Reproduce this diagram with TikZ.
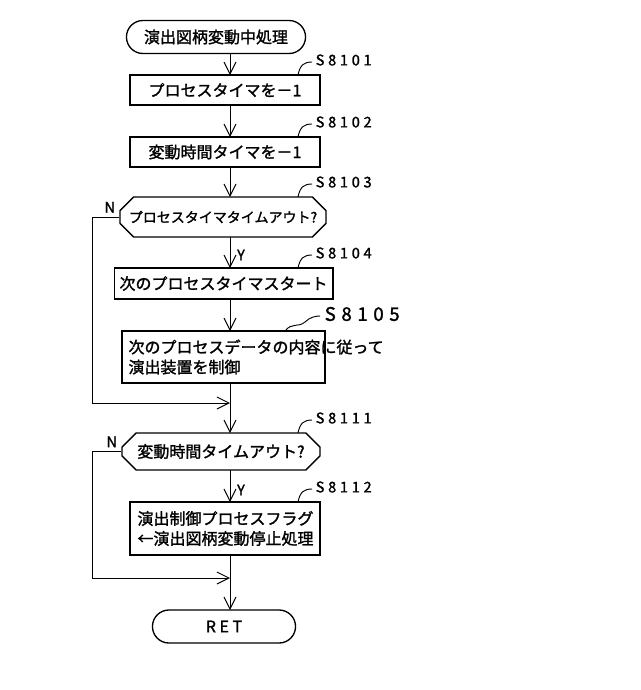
\documentclass[tikz,border=0pt]{standalone}
\usepackage{fontspec}
\setmainfont{Noto Sans CJK JP}[FakeBold=1.5]
\usetikzlibrary{arrows.meta,shapes.misc}
\begin{document}
\begin{tikzpicture}[x=0.75pt,y=-0.75pt,
  box/.style={draw,line width=1pt,minimum height=#1*0.75pt,inner sep=4pt},
  lbl/.style={font=\fontsize{11}{12}\selectfont},
  arr/.style={-{Straight Barb[length=9pt,width=9pt]},line width=0.7pt},
  ln/.style={line width=0.7pt},
  txt/.style={font=\fontsize{12}{15}\selectfont},
  hex/.style={draw,line width=1pt,chamfered rectangle,chamfered rectangle xsep=7pt,inner xsep=0pt,inner ysep=2pt}]
\useasboundingbox (0,0) rectangle (640,690);
\node[draw,line width=1pt,rounded rectangle,minimum width=188*0.75pt,minimum height=33*0.75pt,txt] (st) at (216,37) {演出図柄変動中処理};
\node[box=30,minimum width=190*0.75pt,txt] (b1) at (225,90) {プロセスタイマを－1};
\node[box=30,minimum width=190*0.75pt,txt] (b2) at (225,152) {変動時間タイマを－1};
\node[hex,minimum width=184*0.75pt,minimum height=40*0.75pt,font=\fontsize{10.5}{13}\selectfont] (h1) at (223,217) {プロセスタイマタイムアウト?};
\node[box=31,minimum width=185*0.75pt,txt] (b4) at (223.5,283.5) {次のプロセスタイマスタート};
\node[box=52,minimum width=203*0.75pt,txt,align=left,text width=190*0.75pt] (b5) at (223.5,357) {次のプロセスデータの内容に従って\\演出装置を制御};
\node[hex,minimum width=198*0.75pt,minimum height=37*0.75pt,font=\fontsize{12}{15}\selectfont] (h2) at (221,451.5) {変動時間タイムアウト?};
\node[box=53,minimum width=190*0.75pt,txt,align=left,text width=175*0.75pt] (b6) at (225,528.5) {演出制御プロセスフラグ\\←演出図柄変動停止処理};
\node[draw,line width=1pt,rounded rectangle,minimum width=152*0.75pt,minimum height=33*0.75pt,txt] (ret) at (224,626.5) {R E T};
\coordinate (m1) at (230,403);
\coordinate (m2) at (230,578);
\draw[arr] (230,53) -- (230,75);
\draw[arr] (230,105) -- (230,137);
\draw[arr] (230,167) -- (230,197);
\draw[arr] (230,237) -- (230,268);
\draw[arr] (230,299) -- (230,331);
\draw[ln] (230,383) -- (m1);
\draw[arr] (m1) -- (230,433);
\draw[arr] (230,470) -- (230,502);
\draw[ln] (230,555) -- (m2);
\draw[arr] (m2) -- (230,610);
\draw[arr] (h1.west) -- (92,217) -- (92,403) -- (m1);
\draw[arr] (h2.west) -- (92,451.5) -- (92,578) -- (m2);
\node[lbl,anchor=south east,inner sep=1pt] at ([xshift=-2pt,yshift=2pt]h1.west) {N};
\node[lbl,anchor=south east,inner sep=1pt] at ([xshift=-2pt,yshift=2pt]h2.west) {N};
\node[lbl] at (241,255) {Y};
\node[lbl] at (241,490) {Y};
\foreach \y/\t in {75/S8101,137/S8102,197/S8103,268/S8104,433/S8111,502/S8112}{
  \draw[ln] (298,\y) .. controls (300,\y-10) and (304,\y-13) .. (312,\y-13);
  \node[lbl,anchor=west] at (311,\y-15) {\addfontfeature{LetterSpace=25}\t};
}
\draw[ln] (285,331) .. controls (292,322) and (298,328) .. (305,322) .. controls (310,317) and (316,316) .. (320,316);
\node[font=\fontsize{14}{16}\selectfont,anchor=west] at (320,314) {\addfontfeature{LetterSpace=30}S8105};
\end{tikzpicture}
\end{document}
